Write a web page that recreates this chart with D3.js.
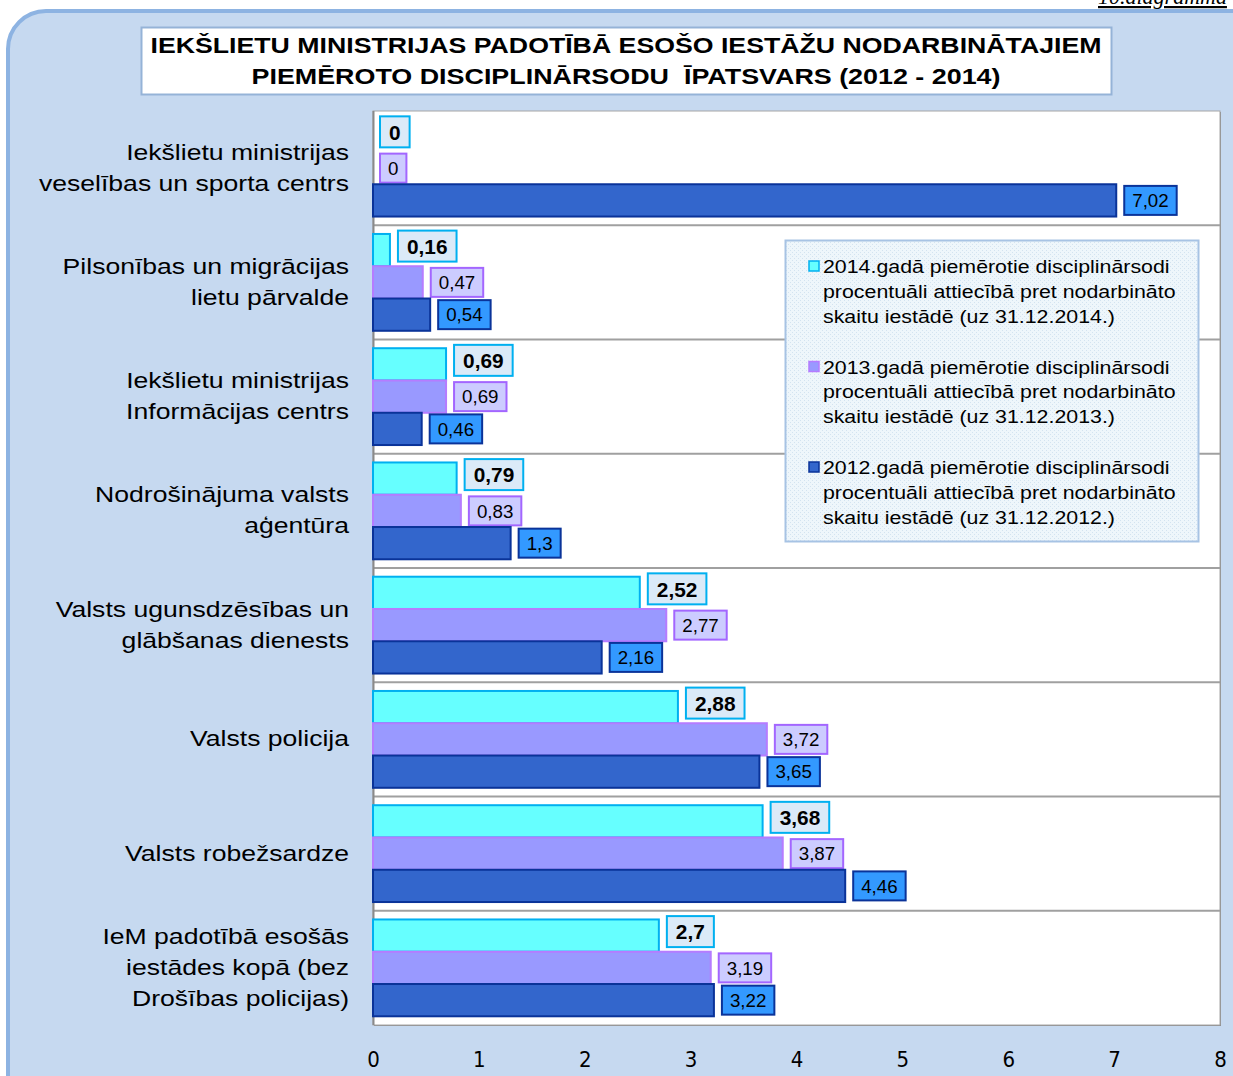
<!DOCTYPE html>
<html>
<head>
<meta charset="utf-8">
<script src="https://cdn.jsdelivr.net/npm/d3@7"></script>
<style>
  body { margin: 0; background: #ffffff; }
  svg { display: block; }
</style>
</head>
<body>
<svg id="chart" width="1233" height="1076"></svg>
<script>
const categories = [
	['Iekšlietu ministrijas', 'veselības un sporta centrs'],
	['Pilsonības un migrācijas', 'lietu pārvalde'],
	['Iekšlietu ministrijas', 'Informācijas centrs'],
	['Nodrošinājuma valsts', 'aģentūra'],
	['Valsts ugunsdzēsības un', 'glābšanas dienests'],
	['Valsts policija'],
	['Valsts robežsardze'],
	['IeM padotībā esošās', 'iestādes kopā (bez', 'Drošības policijas)']
];
const values2014 = [0, 0.16, 0.69, 0.79, 2.52, 2.88, 3.68, 2.7];
const values2013 = [0, 0.47, 0.69, 0.83, 2.77, 3.72, 3.87, 3.19];
const values2012 = [7.02, 0.54, 0.46, 1.3, 2.16, 3.65, 4.46, 3.22];
const seriesKeys = ['2014', '2013', '2012'];
const legendLines = {
	'2014': ['2014.gadā piemērotie disciplinārsodi', 'procentuāli attiecībā pret nodarbināto', 'skaitu iestādē (uz 31.12.2014.)'],
	'2013': ['2013.gadā piemērotie disciplinārsodi', 'procentuāli attiecībā pret nodarbināto', 'skaitu iestādē (uz 31.12.2013.)'],
	'2012': ['2012.gadā piemērotie disciplinārsodi', 'procentuāli attiecībā pret nodarbināto', 'skaitu iestādē (uz 31.12.2012.)']
};
const titleLines = [
	'IEKŠLIETU MINISTRIJAS PADOTĪBĀ ESOŠO IESTĀŽU NODARBINĀTAJIEM',
	'PIEMĒROTO DISCIPLINĀRSODU  ĪPATSVARS (2012 - 2014)'
];
const xTicks = [0, 1, 2, 3, 4, 5, 6, 7, 8];

const seriesValues = { '2014': values2014, '2013': values2013, '2012': values2012 };

const style = {
	'2014': { fill: '#66ffff', stroke: '#00b0f0', labelFill: '#dbeaf8', labelStroke: '#00b0f0', bold: true, size: 19.5, dy: -4 },
	'2013': { fill: '#9999ff', stroke: '#b57cff', labelFill: '#ccccff', labelStroke: '#a366ff', bold: false, size: 17.5, dy: 0 },
	'2012': { fill: '#3366cc', stroke: '#0a3399', labelFill: '#3399ff', labelStroke: '#0a3399', bold: false, size: 17.5, dy: 0 }
};

const svg = d3.select('#chart');
const font = '\'Liberation Sans\', Arial, sans-serif';
// the original picture is a little stretched sideways
const stretch = 1.236;

// page note, cut at the top edge like in the original
svg.append('text')
	.attr('x', 1098)
	.attr('y', 4)
	.attr('font-family', '\'Liberation Serif\', serif')
	.attr('font-style', 'italic')
	.attr('font-size', 22)
	.attr('text-decoration', 'underline')
	.attr('fill', '#000')
	.text('10.diagramma');

// outer chart frame
svg.append('rect')
	.attr('x', 8)
	.attr('y', 11)
	.attr('width', 1300)
	.attr('height', 1120)
	.attr('rx', 38)
	.attr('ry', 38)
	.attr('fill', '#c6d9f0')
	.attr('stroke', '#8db3e2')
	.attr('stroke-width', 4);

// title box
svg.append('rect')
	.attr('x', 141.5)
	.attr('y', 27.5)
	.attr('width', 970)
	.attr('height', 67)
	.attr('fill', '#ffffff')
	.attr('stroke', '#95b3d7')
	.attr('stroke-width', 2);

const titleLen = [951, 749];
svg.append('g')
	.selectAll('text')
	.data(titleLines)
	.enter().append('text')
	.attr('x', 626)
	.attr('y', (d, i) => 53 + i * 31)
	.attr('text-anchor', 'middle')
	.attr('font-family', font)
	.attr('font-weight', 'bold')
	.attr('font-size', 21.5)
	.attr('textLength', (d, i) => titleLen[i])
	.attr('lengthAdjust', 'spacingAndGlyphs')
	.style('white-space', 'pre')
	.attr('fill', '#000')
	.text(d => d);

// plot area
const plot = { left: 373, top: 111, right: 1220, bottom: 1025 };

const x = d3.scaleLinear().domain([0, 8]).range([plot.left, plot.right]);
const y = d3.scaleBand().domain(d3.range(categories.length)).range([plot.top, plot.bottom]);
const inner = d3.scaleBand().domain(seriesKeys).range([0, y.bandwidth()]).paddingOuter(0.27);

svg.append('rect')
	.attr('x', plot.left + 1)
	.attr('y', plot.top + 1)
	.attr('width', plot.right - plot.left)
	.attr('height', plot.bottom - plot.top)
	.attr('fill', '#8a8a8a');

svg.append('rect')
	.attr('x', plot.left)
	.attr('y', plot.top)
	.attr('width', plot.right - plot.left)
	.attr('height', plot.bottom - plot.top)
	.attr('fill', '#ffffff')
	.attr('stroke', '#a6a6a6')
	.attr('stroke-width', 1);

// category separators
svg.append('g')
	.selectAll('line')
	.data(d3.range(1, categories.length))
	.enter().append('line')
	.attr('x1', plot.left)
	.attr('x2', plot.right)
	.attr('y1', d => y(d))
	.attr('y2', d => y(d))
	.attr('stroke', '#a0a0a0')
	.attr('stroke-width', 2);

svg.append('line')
	.attr('x1', plot.left + 0.5)
	.attr('x2', plot.left + 0.5)
	.attr('y1', plot.top)
	.attr('y2', plot.bottom)
	.attr('stroke', '#8a8a8a')
	.attr('stroke-width', 2);

const legend = { x: 785, y: 240, w: 413, h: 301 };

const defs = svg.append('defs');
const pat = defs.append('pattern')
	.attr('id', 'dots')
	.attr('width', 4)
	.attr('height', 4)
	.attr('patternUnits', 'userSpaceOnUse');
pat.append('rect').attr('width', 4).attr('height', 4).attr('fill', '#eef6fb');
pat.append('rect').attr('width', 1).attr('height', 1).attr('fill', '#d3e3f0');
pat.append('rect').attr('x', 2).attr('y', 2).attr('width', 1).attr('height', 1).attr('fill', '#d3e3f0');

// bars + value labels
const labelStretch = 1.07;
const rows = svg.append('g')
	.selectAll('g')
	.data(categories)
	.enter().append('g')
	.attr('transform', (d, i) => `translate(0,${y(i)})`);

rows.each(function(cat, i) {
	const row = d3.select(this);
	seriesKeys.forEach(key => {
		const v = seriesValues[key][i];
		const s = style[key];
		const by = inner(key);
		const bh = inner.bandwidth();
		if (v > 0) {
			row.append('rect')
				.attr('x', x(0))
				.attr('y', by)
				.attr('width', x(v) - x(0))
				.attr('height', bh)
				.attr('fill', s.fill)
				.attr('stroke', s.stroke)
				.attr('stroke-width', 2);
		}

		const lbl = row.append('g');
		const txt = lbl.append('text')
			.attr('font-family', font)
			.attr('font-size', s.size)
			.attr('font-weight', s.bold ? 'bold' : 'normal')
			.attr('fill', '#000')
			.attr('text-anchor', 'middle')
			.attr('dominant-baseline', 'central')
			.text(String(v).replace('.', ','));
		const tw = txt.node().getComputedTextLength() * labelStretch;
		const pad = s.bold ? 9 : 8;
		const bw = tw + pad * 2;
		const boxH = s.bold ? 31 : 29;
		const bx = x(v) + (v > 0 ? 8 : 7);
		const cy = by + bh / 2 + s.dy;
		lbl.insert('rect', 'text')
			.attr('x', bx)
			.attr('y', cy - boxH / 2)
			.attr('width', bw)
			.attr('height', boxH)
			.attr('fill', s.labelFill)
			.attr('stroke', s.labelStroke)
			.attr('stroke-width', 2);
		txt.attr('x', 0).attr('y', 0)
			.attr('transform', `translate(${bx + bw / 2},${cy + 1}) scale(${labelStretch},1)`);
	});
});

// category labels
svg.append('g')
	.selectAll('text')
	.data(categories)
	.enter().append('text')
	.attr('text-anchor', 'end')
	.attr('font-family', font)
	.attr('font-size', 21.5)
	.attr('fill', '#000')
	.attr('transform', `translate(349,0) scale(${stretch},1)`)
	.each(function(lines, i) {
		const t = d3.select(this);
		const lh = 31;
		const cy = y(i) + y.bandwidth() / 2 - 1;
		lines.forEach((ln, j) => {
			t.append('tspan')
				.attr('x', 0)
				.attr('y', cy + (j - (lines.length - 1) / 2) * lh + 8)
				.text(ln);
		});
	});

// x axis
const axis = svg.append('g')
	.attr('transform', `translate(0,${plot.bottom})`)
	.call(d3.axisBottom(x).tickValues(xTicks).tickSize(0).tickPadding(26).tickFormat(d3.format('d')));
axis.select('.domain').remove();
axis.selectAll('text')
	.attr('font-family', '\'Liberation Sans Narrow\', \'DejaVu Sans Condensed\', sans-serif')
	.attr('font-size', 22)
	.attr('fill', '#000');

// legend box
svg.append('rect')
	.attr('x', legend.x + 0.5)
	.attr('y', legend.y + 0.5)
	.attr('width', legend.w)
	.attr('height', legend.h)
	.attr('fill', 'url(#dots)')
	.attr('stroke', '#a7c3e4')
	.attr('stroke-width', 2);

const items = svg.append('g')
	.selectAll('g')
	.data(seriesKeys)
	.enter().append('g')
	.attr('transform', (d, i) => `translate(${legend.x},${legend.y + 26 + i * 100.5})`);

items.append('rect')
	.attr('x', 24)
	.attr('y', -5)
	.attr('width', 10)
	.attr('height', 10)
	.attr('fill', d => style[d].fill)
	.attr('stroke', d => style[d].stroke)
	.attr('stroke-width', 1.5);

items.append('text')
	.attr('font-family', font)
	.attr('font-size', 18.5)
	.attr('fill', '#000')
	.attr('transform', 'translate(38,0) scale(1.155,1)')
	.each(function(key) {
		const t = d3.select(this);
		legendLines[key].forEach((ln, j) => {
			t.append('tspan')
				.attr('x', 0)
				.attr('y', 7 + j * 25)
				.text(ln);
		});
	});
</script>
</body>
</html>
